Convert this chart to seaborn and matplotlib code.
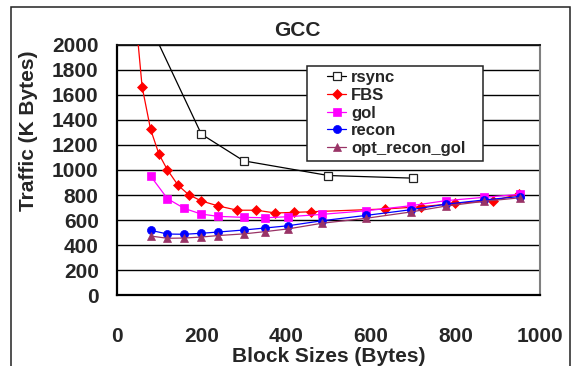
import matplotlib
matplotlib.use("Agg")
import matplotlib.pyplot as plt
import seaborn as sns
import pandas as pd
from matplotlib.patches import Rectangle

# Traffic (K Bytes) per block size (Bytes) for each sync method
rsync_x = [50, 200, 300, 500, 700]
rsync_y = [2360, 1286, 1073, 956, 935]

fbs_x = [40, 60, 80, 100, 120, 145, 170, 200, 240, 285, 330, 375, 420, 460, 635, 720, 800, 890, 950]
fbs_y = [2400, 1665, 1325, 1125, 1000, 878, 803, 753, 713, 679, 679, 657, 662, 667, 689, 707, 734, 755, 806]

gol_x = [80, 120, 160, 200, 240, 300, 350, 405, 485, 590, 695, 777, 868, 952]
gol_y = [952, 771, 693, 648, 630, 622, 619, 627, 646, 675, 715, 755, 782, 806]

recon_x = [80, 120, 160, 200, 240, 300, 350, 405, 485, 590, 695, 777, 868, 952]
recon_y = [519, 489, 487, 495, 505, 521, 537, 555, 595, 638, 683, 727, 761, 788]

opt_x = [80, 120, 160, 200, 240, 300, 350, 405, 485, 590, 695, 777, 868, 952]
opt_y = [473, 455, 457, 465, 477, 490, 508, 530, 575, 615, 665, 712, 750, 778]

x_ticks = [0, 200, 400, 600, 800, 1000]
y_ticks = [0, 200, 400, 600, 800, 1000, 1200, 1400, 1600, 1800, 2000]

title = "GCC"
x_label = "Block Sizes (Bytes)"
y_label = "Traffic (K Bytes)"

sns.set_style("white")
plt.rcParams["font.family"] = ["Liberation Sans", "DejaVu Sans"]
plt.rcParams["font.weight"] = "bold"

series = [
    ("rsync", rsync_x, rsync_y, dict(color="black", marker="s", markersize=5.8,
                                     markerfacecolor="white", markeredgecolor="#222222",
                                     markeredgewidth=0.9)),
    ("FBS", fbs_x, fbs_y, dict(color="#FF0000", marker="D", markersize=4.9,
                               markerfacecolor="#FF0000", markeredgecolor="#FF0000",
                               markeredgewidth=0.5)),
    ("gol", gol_x, gol_y, dict(color="#FF00FF", marker="s", markersize=5.8,
                               markerfacecolor="#FF00FF", markeredgecolor="#FF00FF",
                               markeredgewidth=0.5)),
    ("recon", recon_x, recon_y, dict(color="#0000FF", marker="o", markersize=5.8,
                                     markerfacecolor="#0000FF", markeredgecolor="#0000FF",
                                     markeredgewidth=0.5)),
    ("opt_recon_gol", opt_x, opt_y, dict(color="#993366", marker="^", markersize=6.0,
                                         markerfacecolor="#993366", markeredgecolor="#993366",
                                         markeredgewidth=0.5)),
]

fig = plt.figure(figsize=(5.72, 3.66), dpi=100)
ax = fig.add_axes([116.7 / 572, 1 - 295.3 / 366, 423.3 / 572, 250.6 / 366])

for name, xs, ys, style in series:
    df = pd.DataFrame({"block": xs, "traffic": ys})
    sns.lineplot(data=df, x="block", y="traffic", ax=ax, label=name,
                 estimator=None, sort=False, linewidth=0.9, zorder=3, **style)

ax.set_xlim(0, 1000)
ax.set_ylim(0, 2000)
ax.set_xticks(x_ticks)
ax.set_yticks(y_ticks)
ax.tick_params(axis="x", direction="in", length=5, width=1, pad=23, labelsize=15, color="black")
ax.tick_params(axis="y", direction="out", length=2, width=1, pad=11, labelsize=15, color="black")
for lab in ax.get_xticklabels() + ax.get_yticklabels():
    lab.set_fontweight("bold")

ax.yaxis.grid(True, color="black", linewidth=1.0)
ax.xaxis.grid(False)
ax.set_axisbelow(True)

for side in ["left", "bottom"]:
    ax.spines[side].set_color("black")
    ax.spines[side].set_linewidth(1.6)
ax.spines["top"].set_color("#111111")
ax.spines["top"].set_linewidth(1.3)
ax.spines["right"].set_color("#808080")
ax.spines["right"].set_linewidth(1.5)

ax.set_xlabel(x_label, fontsize=15, fontweight="bold", labelpad=0.5)
ax.set_ylabel(y_label, fontsize=15, fontweight="bold")
ax.yaxis.set_label_coords(-0.186, 0.656)

fig.text(297.5 / 572, 1 - 36 / 366, title, ha="center", va="baseline",
         fontsize=15, fontweight="bold")

# legend frame drawn as its own box, entries placed inside it
box = Rectangle((0.449, 0.536), 0.416, 0.379, transform=ax.transAxes,
                facecolor="white", edgecolor="#222222", linewidth=1.1, zorder=4)
ax.add_patch(box)
leg = ax.legend(loc="upper left", bbox_to_anchor=(0.4968, 0.898), frameon=False,
                borderpad=0, borderaxespad=0, handlelength=1.15, handletextpad=0.3,
                labelspacing=0.16, prop={"size": 12, "weight": "bold"})
leg.set_zorder(5)

# outer chart frame
fig.add_artist(Rectangle((11 / 572, -0.05), 559 / 572, 1.05 - 7 / 366,
                         transform=fig.transFigure, fill=False,
                         edgecolor="#222222", linewidth=1.1))

fig.savefig("out.png", dpi=100)
